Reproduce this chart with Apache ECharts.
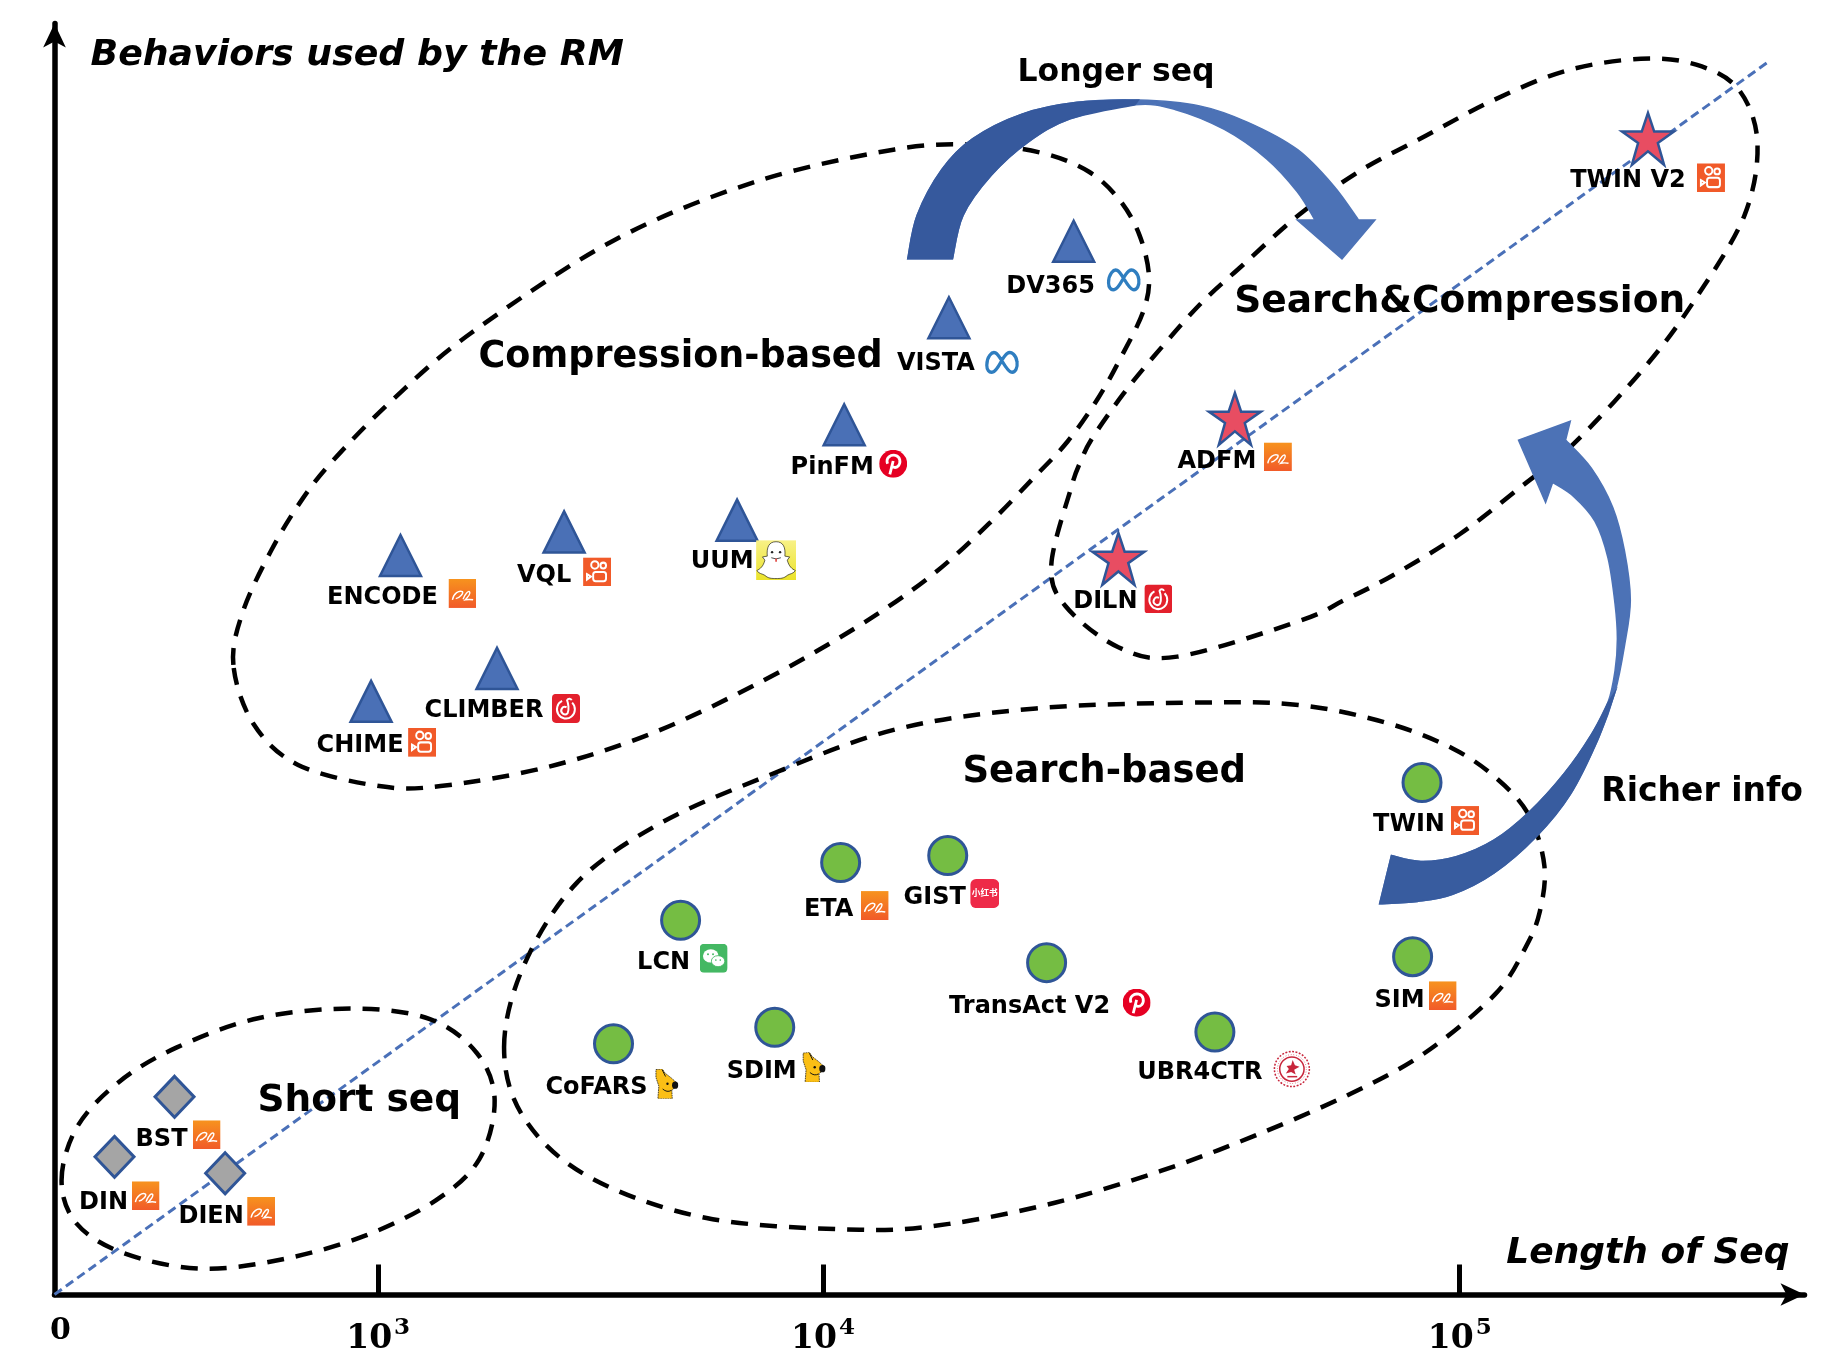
<!DOCTYPE html>
<html><head><meta charset="utf-8">
<style>html,body{margin:0;padding:0;background:#fff}#c{width:1846px;height:1363px}</style>
<script src="https://cdn.jsdelivr.net/npm/echarts@6/dist/echarts.min.js"></script>
</head><body><div id="c"></div>
<script>
// ---- Data (axis-position units) ----
const xTickPositions = [0, 275, 653, 1194];
const xTickExponents = [null, 3, 4, 5];
const diagonal = [[0, 0], [1457, 1048]];

const compressionModels = [['ENCODE',294,628],['VQL',433,648],['UUM',580,658],['PinFM',671,739],['VISTA',760,830],['DV365',866,895],['CLIMBER',376,532],['CHIME',269,504]];
const searchModels = [['TWIN',1162,435],['ETA',668,367],['GIST',759,373],['LCN',532,318],['TransAct V2',843,282],['SIM',1154,287],['CoFARS',475,213],['SDIM',612,227],['UBR4CTR',986,223]];
const shortModels = [['BST',102,168],['DIN',51,117],['DIEN',145,103]];
const hybridModels = [['TWIN V2',1354,982],['ADFM',1003,744],['DILN',904,625]];

const regionLabels = [['Compression-based',532,796,36.5],['Search&Compression',1194,843,37.5],['Search-based',892,444,37],['Short seq',259,164,37.5],['Longer seq',902,1038,31.5],['Richer info',1400,427,33]];

const shortOutline = [[6,97],[19,142],[54,180],[104,210],[174,235],[254,243],[319,234],[359,205],[374,165],[361,115],[324,80],[264,50],[194,30],[124,22],[59,35],[19,60]];
const compressionOutline = [[152,535],[160,580],[184,632],[210,675],[237,709],[287,760],[354,817],[474,895],[594,945],[714,973],[784,977],[839,970],[879,954],[905,930],[922,900],[930,865],[925,835],[906,796],[887,762],[861,725],[832,694],[794,655],[744,610],[680,566],[599,520],[508,477],[418,448],[328,432],[276,432],[207,450],[169,485]];
const hybridOutline = [[847,620],[864,686],[872,708],[882,728],[908,765],[934,797],[973,841],[1010,875],[1057,917],[1108,954],[1166,985],[1223,1015],[1285,1040],[1348,1050],[1395,1045],[1431,1024],[1447,979],[1436,917],[1395,847],[1353,790],[1291,723],[1247,687],[1194,646],[1137,611],[1096,590],[1057,572],[954,542],[904,550],[859,585]];
const searchOutline = [[382,210],[399,280],[444,350],[514,400],[604,440],[714,480],[834,498],[974,503],[1057,501],[1131,486],[1188,464],[1226,438],[1253,407],[1266,364],[1262,325],[1250,295],[1224,255],[1164,205],[1100,170],[1020,135],[940,105],[850,78],[760,60],[684,55],[554,65],[454,100],[399,150]];

const longerDarkOuter = [[725,880],[733,917],[754,956],[780,982],[822,1003],[869,1013],[921,1015]];
const longerDarkInner = [[918,1011],[863,999],[827,979],[796,951],[772,917],[763,880]];
const longerLightOuter = [[921,1015],[973,1010],[1014,996],[1056,973],[1087,942],[1108,913]];
const longerHead = [[1122,913],[1094,880],[1056,913]];
const longerLightInner = [[1071,913],[1056,937],[1030,965],[994,990],[952,1007],[918,1011]];

const richerDarkInner = [[1136,373],[1161,368],[1191,372],[1223,386],[1253,410],[1283,443],[1306,476],[1320,503]];
const richerDarkOuter = [[1326,512],[1312,473],[1288,425],[1259,389],[1223,358],[1188,340],[1158,334],[1126,332]];
const richerLightInner = [[1320,503],[1326,530],[1328,557],[1326,587],[1320,626],[1309,657],[1291,678],[1273,690]];
const richerHead = [[1267,673],[1244,726],[1288,742]];
const richerLightOuter = [[1284,726],[1306,702],[1324,669],[1334,632],[1339,590],[1334,551],[1326,512]];

// ---- Label placement (pixel offsets from each marker) and logos ----
const labelLayout = {
  ENCODE:[-18,42,62,38,'ali'],VQL:[-20,44,33,40,'kwai'],UUM:[-15,42,39,40,'snap'],PinFM:[-12,43,49,39,'pin'],
  VISTA:[-13,46,53,44,'meta'],DV365:[-23,46,50,38,'meta'],CLIMBER:[-13,42,69,40,'ne'],CHIME:[-11,44,51,41,'kwai'],
  TWIN:[-13,42,43,38,'kwai'],ETA:[-12,47,34,43,'ali'],GIST:[-13,42,37,38,'xhs'],LCN:[-17,43,33,38,'wx'],
  'TransAct V2':[-17,44,90,40,'pin'],SIM:[-13,44,30,39,'ali'],CoFARS:[-17,44,53,40,'mt'],SDIM:[-13,44,39,40,'mt'],
  UBR4CTR:[-15,41,77,37,'ustc'],BST:[-13,43,32,38,'ali'],DIN:[-11,46,31,39,'ali'],DIEN:[-14,43,36,38,'ali'],
  'TWIN V2':[-20,42,63,39,'kwai'],ADFM:[-18,43,43,38,'ali'],DILN:[-13,43,40,40,'ne']
};
const svg = (s, vh) => 'data:image/svg+xml;charset=utf-8,' + encodeURIComponent('<svg xmlns="http://www.w3.org/2000/svg" width="200" height="' + (vh || 100) * 2 + '" viewBox="0 0 100 ' + (vh || 100) + '">' + s + '</svg>');
const logos = {
  ali:{w:28,h:29,src:svg('<defs><linearGradient id="g" x1="0" y1="0" x2="0" y2="1"><stop offset="0" stop-color="#f7931e"/><stop offset="1" stop-color="#f15a29"/></linearGradient></defs><rect width="100" height="100" fill="url(#g)"/><path d="M14 72C18 50 38 38 50 44C54 50 40 66 26 68M52 70C58 52 72 38 76 46C78 54 66 66 60 72C70 70 78 70 88 72" fill="none" stroke="#fff" stroke-width="5"/>')},
  kwai:{w:28,h:29,src:svg('<rect width="100" height="100" fill="#f15a29"/><g fill="none" stroke="#fff" stroke-width="7"><circle cx="42" cy="26" r="13"/><circle cx="72" cy="28" r="10"/><rect x="36" y="50" width="46" height="32" rx="9"/><path d="M14 58L28 66L14 76Z"/></g>')},
  ne:{w:28,h:29,src:svg('<rect width="100" height="100" rx="14" fill="#e3202c"/><g fill="none" stroke="#fff" stroke-width="7"><path d="M36 24A32 32 0 1 0 72 30"/><path d="M52 46A13 13 0 1 0 56 66C62 54 58 32 54 22C58 14 68 16 70 22"/></g>')},
  pin:{w:28,h:28,src:svg('<circle cx="50" cy="50" r="50" fill="#e60023"/><path d="M38 88L50 40M30 50C22 28 42 16 58 20C76 24 78 46 68 58C60 66 48 64 44 56" fill="none" stroke="#fff" stroke-width="10"/>')},
  meta:{w:36,h:27,src:svg('<path d="M8 44C8 22 22 8 32 12C46 18 60 58 76 62C88 64 94 50 92 36C90 18 76 6 64 14C48 26 40 58 24 62C14 64 8 56 8 44Z" fill="none" stroke="#2f7ec0" stroke-width="9"/>', 70)},
  snap:{w:40,h:40,src:svg('<defs><linearGradient id="s" x1="0" y1="0" x2="0" y2="1"><stop offset="0" stop-color="#f8f187"/><stop offset="1" stop-color="#ebe32a"/></linearGradient></defs><rect width="100" height="100" fill="url(#s)"/><path d="M50 4C68 4 74 18 72 40L84 42L78 50C82 66 90 72 98 76C94 84 84 84 78 88C70 96 60 96 50 96C40 96 30 96 22 88C16 84 6 84 2 76C10 72 18 66 22 50L16 42L28 40C26 18 32 4 50 4Z" fill="#fff" stroke="#111" stroke-width="1.6"/><circle cx="40" cy="30" r="3" fill="#222"/><circle cx="60" cy="30" r="3" fill="#222"/><path d="M38 44Q50 50 62 44" fill="none" stroke="#222" stroke-width="2"/><path d="M50 46v8" stroke="#e0413a" stroke-width="4"/>')},
  wx:{w:28,h:29,src:svg('<rect width="100" height="100" rx="16" fill="#44b863"/><ellipse cx="40" cy="42" rx="28" ry="23" fill="#fff"/><ellipse cx="66" cy="60" rx="24" ry="19" fill="#fff" stroke="#44b863" stroke-width="3"/><circle cx="30" cy="36" r="3.5" fill="#44b863"/><circle cx="48" cy="36" r="3.5" fill="#44b863"/><circle cx="58" cy="56" r="3" fill="#44b863"/><circle cx="74" cy="56" r="3" fill="#44b863"/>')},
  xhs:{w:29,h:29,src:svg('<rect width="100" height="100" rx="20" fill="#ee2a48"/><text x="50" y="60" text-anchor="middle" font-family="Noto Sans CJK SC" font-weight="700" font-size="30" fill="#fff">小红书</text>')},
  mt:{w:24,h:30,src:svg('<path d="M6 3L32 0L44 18L70 38L94 60L86 78L72 88L74 125L14 125L18 72L6 36Z" fill="#fbbf15" stroke="#111" stroke-width="3" stroke-dasharray="7 3"/><path d="M32 4L46 32" stroke="#111" stroke-width="4"/><ellipse cx="86" cy="68" rx="13" ry="15" fill="#111"/><circle cx="54" cy="62" r="5" fill="#111"/><path d="M34 84Q52 100 70 90" fill="none" stroke="#111" stroke-width="4"/>', 125)},
  ustc:{w:38,h:38,src:svg('<circle cx="50" cy="50" r="46" fill="none" stroke="#c8263c" stroke-width="4" stroke-dasharray="5 4"/><circle cx="50" cy="50" r="32" fill="none" stroke="#c8263c" stroke-width="4"/><circle cx="50" cy="50" r="38" fill="none" stroke="#c8263c" stroke-width="2" stroke-dasharray="2 5"/><path d="M52 26L58 40L70 44L56 52L60 64L48 58L34 62L42 50L36 42L48 40Z" fill="#c8263c"/><path d="M38 70H64" stroke="#c8263c" stroke-width="4"/>')}
};

// ---- Styling constants ----
const FONT = '"DejaVu Sans"';
const BORDER = '#2f5597';
const STAR = 'path://M50,0L62,36L100,36L69,58L81,100L50,74L19,100L31,58L0,36L38,36Z';
const outlines = [shortOutline, compressionOutline, hybridOutline, searchOutline];
const arrowShapes = [
  {fill:'#4c72b6', parts:[[[...longerDarkOuter, ...longerLightOuter.slice(1)],1],[longerHead,0],[[...longerLightInner, ...longerDarkInner.slice(1)],1]]},
  {fill:'#36599d', parts:[[longerDarkOuter,1],[longerDarkInner,1]]},
  {fill:'#4c72b6', parts:[[[...richerLightOuter, ...richerDarkOuter.slice(1)],1],[[...richerDarkInner, ...richerLightInner.slice(1)],1],[richerHead,0]]},
  {fill:'#385c9f', parts:[[richerDarkInner,1],[richerDarkOuter,1]]}
];

function spline(pts) {
  // Catmull-Rom through pixel points, returned as bezier commands
  const n = pts.length; let d = '';
  const at = i => pts[Math.max(0, Math.min(n - 1, i))];
  for (let i = 0; i < n - 1; i++) {
    const p0 = at(i - 1), p1 = at(i), p2 = at(i + 1), p3 = at(i + 2);
    d += `C${p1[0] + (p2[0] - p0[0]) / 6} ${p1[1] + (p2[1] - p0[1]) / 6} ${p2[0] - (p3[0] - p1[0]) / 6} ${p2[1] - (p3[1] - p1[1]) / 6} ${p2[0]} ${p2[1]}`;
  }
  return d;
}
function closedSpline(pts) {
  const n = pts.length; let d = `M${pts[0][0]} ${pts[0][1]}`;
  const at = i => pts[(i + n) % n];
  for (let i = 0; i < n; i++) {
    const p0 = at(i - 1), p1 = at(i), p2 = at(i + 1), p3 = at(i + 2);
    d += `C${p1[0] + (p2[0] - p0[0]) / 6} ${p1[1] + (p2[1] - p0[1]) / 6} ${p2[0] - (p3[0] - p1[0]) / 6} ${p2[1] - (p3[1] - p1[1]) / 6} ${p2[0]} ${p2[1]}`;
  }
  return d + 'Z';
}
const allModels = [...compressionModels, ...searchModels, ...shortModels, ...hybridModels];
const rows = list => list.map(m => ({name: m[0], value: [m[1], m[2]]}));

const markerSeries = (list, symbol, size, color, bw) => ({
  type: 'scatter', data: rows(list), symbol, symbolSize: size, z: 6, silent: true,
  itemStyle: {color, borderColor: BORDER, borderWidth: bw, opacity: 1}
});

const option = {
  animation: false,
  backgroundColor: '#fff',
  grid: {left: 54.5, right: 41.5, top: 23.5, bottom: 68.5, containLabel: false},
  xAxis: {
    type: 'value', min: 0, max: 1487, splitLine: {show: false},
    name: 'Length of Seq', nameLocation: 'end', nameGap: -15, nameMoveOverlap: false,
    nameTextStyle: {fontFamily: FONT, fontStyle: 'italic', fontWeight: 'bold', fontSize: 36, color: '#000', align: 'right', verticalAlign: 'bottom', padding: [0, 0, 23, 0]},
    axisLine: {show: true, symbol: ['none', 'arrow'], symbolSize: [17, 24], lineStyle: {color: '#000', width: 5.5}},
    axisTick: {show: true, inside: true, length: 30, customValues: xTickPositions.slice(1), lineStyle: {color: '#000', width: 5}},
    axisLabel: {
      show: true, margin: 22, customValues: xTickPositions, showMinLabel: true, showMaxLabel: true, hideOverlap: false,
      formatter: v => {
        const e = xTickExponents[xTickPositions.indexOf(v)];
        return e == null ? '{zero|0}' : `{base|10}{sup|${e}}`;
      },
      rich: {
        zero: {fontFamily: '"DejaVu Serif"', fontWeight: 'bold', fontSize: 30, color: '#000', padding: [0, 0, 14, 12]},
        base: {fontFamily: '"DejaVu Serif"', fontWeight: 'bold', fontSize: 33, color: '#000', verticalAlign: 'bottom'},
        sup: {fontFamily: '"DejaVu Serif"', fontWeight: 'bold', fontSize: 23, color: '#000', padding: [0, 0, 16, 2], verticalAlign: 'bottom'}
      }
    }
  },
  yAxis: {
    type: 'value', min: 0, max: 1080, splitLine: {show: false},
    name: 'Behaviors used by the RM', nameLocation: 'end', nameGap: -32, nameMoveOverlap: false,
    nameTextStyle: {fontFamily: FONT, fontStyle: 'italic', fontWeight: 'bold', fontSize: 36.3, color: '#000', align: 'left', verticalAlign: 'middle', padding: [0, 0, 0, 36]},
    axisLine: {show: true, symbol: ['none', 'arrow'], symbolSize: [17, 24], lineStyle: {color: '#000', width: 5.5}},
    axisTick: {show: false}, axisLabel: {show: false}
  },
  series: [
    {type: 'line', data: diagonal, symbol: 'none', z: 1, silent: true, lineStyle: {color: '#4a70b8', width: 3, type: [9, 5]}},
    {type: 'custom', coordinateSystem: 'cartesian2d', z: 2, silent: true, clip: false,
      data: outlines.map((o, i) => [i, 0]), encode: {x: 0, y: 1},
      renderItem: (p, api) => {
        const pts = outlines[p.dataIndex].map(q => api.coord(q));
        return {type: 'path', shape: {pathData: closedSpline(pts)},
          style: {fill: 'none', stroke: '#000', lineWidth: 4.5, lineDash: [17, 12]}};
      }},
    {type: 'custom', coordinateSystem: 'cartesian2d', z: 3, silent: true, clip: false,
      data: arrowShapes.map((o, i) => [i, 0]), encode: {x: 0, y: 1},
      renderItem: (p, api) => {
        const a = arrowShapes[p.dataIndex]; let d = '', first = true;
        a.parts.forEach(([list, smooth]) => {
          const pts = list.map(q => api.coord(q));
          d += (first ? 'M' : 'L') + pts[0][0] + ' ' + pts[0][1];
          first = false;
          if (smooth) d += spline(pts);
          else pts.slice(1).forEach(q => { d += `L${q[0]} ${q[1]}`; });
        });
        return {type: 'path', shape: {pathData: d + 'Z'}, style: {fill: a.fill, stroke: a.fill, lineWidth: 1.5}};
      }},
    markerSeries(compressionModels, 'triangle', [41, 41], '#4a70b6', 2.5),
    markerSeries(searchModels, 'circle', 38, '#75bd43', 3),
    markerSeries(shortModels, 'diamond', [39, 41], '#a5a5a5', 3),
    markerSeries(hybridModels, STAR, 52, '#e84d62', 2.5),
    {type: 'custom', coordinateSystem: 'cartesian2d', z: 8, silent: true, clip: false,
      data: allModels.map(m => [m[1], m[2]]), encode: {x: 0, y: 1},
      renderItem: (p, api) => {
        const name = allModels[p.dataIndex][0];
        const [lx, ly, ix, iy, logo] = labelLayout[name];
        const c = api.coord([api.value(0), api.value(1)]);
        const lg = logos[logo];
        return {type: 'group', children: [
          {type: 'text', x: c[0] + lx, y: c[1] + ly, style: {text: name, fontFamily: FONT, fontWeight: 'bold', fontSize: 24, fill: '#000', align: 'center', verticalAlign: 'middle'}},
          {type: 'image', x: c[0] + ix - lg.w / 2, y: c[1] + iy - lg.h / 2, style: {image: lg.src, width: lg.w, height: lg.h}}
        ]};
      }},
    {type: 'scatter', z: 9, silent: true, symbolSize: 0,
      data: regionLabels.map(r => ({name: r[0], value: [r[1], r[2]], label: {fontSize: r[3]}})),
      label: {show: true, position: 'inside', formatter: '{b}', fontFamily: FONT, fontWeight: 'bold', color: '#000', opacity: 1},
      labelLayout: {hideOverlap: false},
      itemStyle: {color: '#000', opacity: 1}}
  ]
};
const chart = echarts.init(document.getElementById('c'), null, {renderer: 'canvas'});
chart.setOption(option);
</script></body></html>
